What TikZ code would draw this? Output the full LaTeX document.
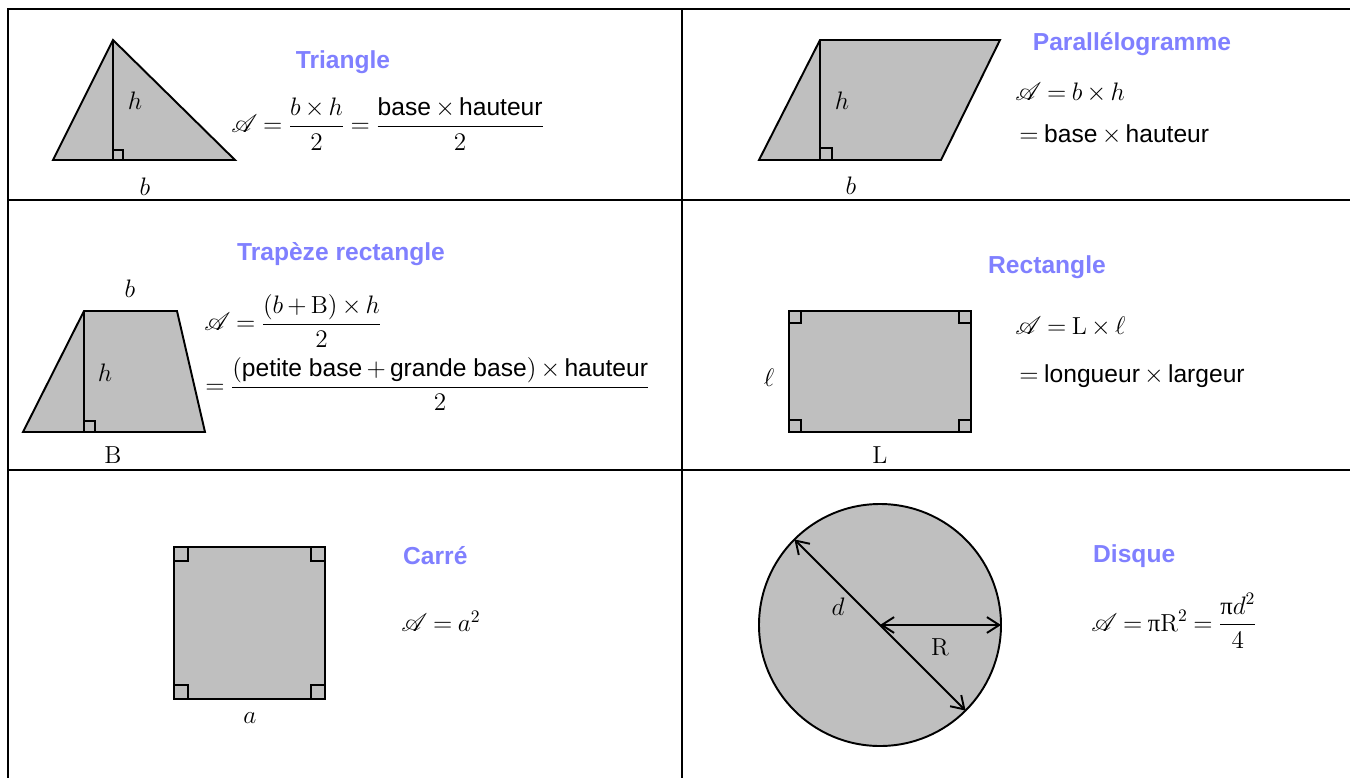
\documentclass[tikz,border=0pt]{standalone}
\usepackage{amsmath, amssymb}
\usepackage{mathrsfs}
\usepackage{fontspec}
\setsansfont{Liberation Sans}
\newfontfamily\serifpi{Liberation Serif}
\usepackage{tikz}
\usepackage{xcolor}
\usetikzlibrary{arrows.meta, positioning}
\definecolor{titrebleu}{RGB}{128,128,255}
\definecolor{grisforme}{RGB}{191,191,191}
\newcommand{\aire}{\mathscr{A}}
\newcommand{\piup}{\text{\serifpi π}}
\thickmuskip=4mu plus 2mu
\medmuskip=3mu plus 1mu minus 2mu

\begin{document}
\begin{tikzpicture}[
    x=0.02cm, y=-0.02cm,
    cadre/.style={line width=1.4pt},
    forme/.style={draw, fill=grisforme, line width=1.1pt},
    hauteur/.style={draw, line width=1.1pt},
    angledroit/.style={draw, line width=0.9pt},
    titre/.style={font=\fontsize{14}{17}\selectfont\sffamily\bfseries, text=titrebleu},
    formule/.style={font=\fontsize{14}{17}\selectfont\sffamily, anchor=west, inner sep=0pt},
    etiq/.style={font=\fontsize{14}{17}\selectfont},
    cote/.style={{Straight Barb[length=7pt,width=9pt]}-{Straight Barb[length=7pt,width=9pt]}, line width=1.1pt}
]
\useasboundingbox (0,0) rectangle (1350,778);
% cadre du tableau
\draw[cadre] (8,778) -- (8,9) -- (1350,9);
\draw[cadre] (682,9) -- (682,778);
\draw[cadre] (8,200) -- (1350,200);
\draw[cadre] (8,470) -- (1350,470);

% triangle
\coordinate (T1) at (53,160);
\coordinate (T2) at (235,160);
\coordinate (T3) at (113,40);
\coordinate (TH) at (113,160);
\draw[forme] (T1) -- (T2) -- (T3) -- cycle;
\draw[hauteur] (T3) -- (TH);
\draw[angledroit] (TH) rectangle ++(10,-10);
\node[etiq] (Th) at (135,101) {$h$};
\node[etiq] (Tb) at (145,187) {$b$};
\node[titre] (Ttitre) at (343,62) {Triangle};
\node[formule] (Tform) at (231,124)
    {$\aire = \dfrac{b\times h}{2} = \dfrac{\text{base}\times\text{hauteur}}{2}$};

% parallelogramme
\coordinate (P1) at (759,160);
\coordinate (P2) at (941,160);
\coordinate (P3) at (1000,40);
\coordinate (P4) at (820,40);
\coordinate (PH) at (820,160);
\draw[forme] (P1) -- (P2) -- (P3) -- (P4) -- cycle;
\draw[hauteur] (P4) -- (PH);
\draw[angledroit] (PH) rectangle ++(12,-12);
\node[etiq] (Ph) at (842,101) {$h$};
\node[etiq] (Pb) at (851,186) {$b$};
\node[titre] (Ptitre) at (1132,44) {Parallélogramme};
\node[formule] (Pform1) at (1015,93) {$\aire = b\times h$};
\node[formule] (Pform2) at (1019,135) {$=\text{base}\times\text{hauteur}$};

% trapeze rectangle
\coordinate (Z1) at (23,432);
\coordinate (Z2) at (205,432);
\coordinate (Z3) at (177,311);
\coordinate (Z4) at (84,311);
\coordinate (ZH) at (84,432);
\draw[forme] (Z1) -- (Z2) -- (Z3) -- (Z4) -- cycle;
\draw[hauteur] (Z4) -- (ZH);
\draw[angledroit] (ZH) rectangle ++(11,-11);
\node[etiq] (Zb) at (130,289) {$b$};
\node[etiq] (Zh) at (105,373) {$h$};
\node[etiq] (ZB) at (113,455) {$\mathrm{B}$};
\node[titre] (Ztitre) at (341,254) {Trapèze rectangle};
\node[formule] (Zform1) at (204,321) {$\aire = \dfrac{(b+\mathrm{B})\times h}{2}$};
\node[formule] (Zform2) at (205,384)
    {$= \dfrac{(\text{petite base}+\text{grande base})\times\text{hauteur}}{2}$};

% rectangle
\coordinate (R1) at (789,311);
\coordinate (R2) at (971,432);
\draw[forme] (R1) rectangle (R2);
\foreach \cx/\cy/\dx/\dy in {789/311/12/12, 971/311/-12/12, 789/432/12/-12, 971/432/-12/-12}{
    \draw[angledroit] (\cx,\cy) rectangle ++(\dx,\dy);
}
\node[etiq] (Rl) at (769,378) {$\ell$};
\node[etiq] (RL) at (880,455) {$\mathrm{L}$};
\node[titre] (Rtitre) at (1047,267) {Rectangle};
\node[formule] (Rform1) at (1015,327) {$\aire = \mathrm{L}\times\ell$};
\node[formule] (Rform2) at (1019,376) {$=\text{longueur}\times\text{largeur}$};

% carre
\coordinate (C1) at (174,547);
\coordinate (C2) at (325,699);
\draw[forme] (C1) rectangle (C2);
\foreach \cx/\cy/\dx/\dy in {174/547/14/14, 325/547/-14/14, 174/699/14/-14, 325/699/-14/-14}{
    \draw[angledroit] (\cx,\cy) rectangle ++(\dx,\dy);
}
\node[etiq] (Ca) at (250,718) {$a$};
\node[titre, anchor=west] (Ctitre) at (397,556) {Carré};
\node[formule] (Cform) at (401,621) {$\aire = a^2$};

% disque
\coordinate (O) at (880,625);
\coordinate (D1) at (794.4,539.4);
\coordinate (D2) at (965.6,710.6);
\coordinate (DR) at (1001,625);
\draw[forme] (O) circle[radius=121];
\draw[cote] (D1) -- (D2);
\draw[cote] (O) -- (DR);
\node[etiq] (Dd) at (838,607) {$d$};
\node[etiq] (DRl) at (940,647) {$\mathrm{R}$};
\node[titre, anchor=west] (Dtitre) at (1087,556) {Disque};
\node[formule] (Dform) at (1091,621) {$\aire = \piup\mathrm{R}^2 = \dfrac{\piup d^2}{4}$};
\end{tikzpicture}
\end{document}
